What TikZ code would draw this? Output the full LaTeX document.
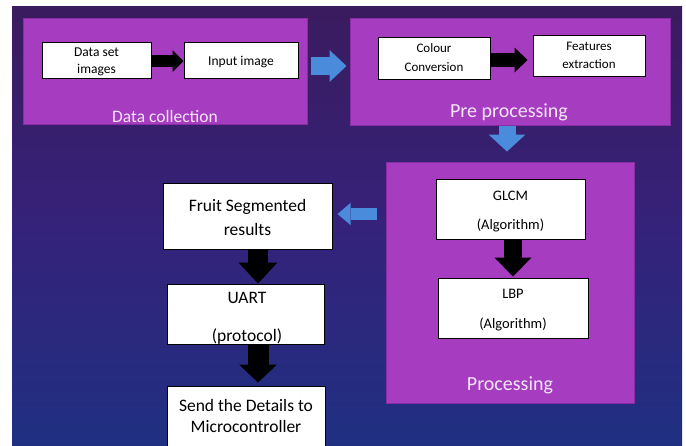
\documentclass[tikz,border=0pt]{standalone}
\usepackage{fontspec}
\setmainfont{Carlito}
\usetikzlibrary{arrows.meta}
\definecolor{bgtop}{HTML}{3A1B5E}
\definecolor{bgmid}{HTML}{35227A}
\definecolor{bgbot}{HTML}{1F3082}
\definecolor{panel}{HTML}{A63CC0}
\definecolor{paneledge}{HTML}{8A2CA6}
\definecolor{bluearr}{HTML}{4A8BDB}
\definecolor{titletext}{HTML}{F3E6F7}
\begin{document}
\begin{tikzpicture}[x=1pt,y=-1pt,
  panelbox/.style={fill=panel, draw=paneledge, line width=1pt, inner sep=0pt},
  whitebox/.style={draw=black, fill=white, line width=1pt, inner sep=0pt},
  lbl/.style={anchor=base, inner sep=0pt, text=black},
  paneltitle/.style={anchor=base, text=titletext, inner sep=0pt},
  blackarrow/.style={draw=black, line width=#1},
  bluearrow/.style={draw=bluearr, line width=#1}
]
\fill[white] (0,0) rectangle (686,445);
\useasboundingbox (0,0) rectangle (686,445);
\shade[top color=bgtop, bottom color=bgbot, middle color=bgmid] (12,6) rectangle (682,446);

% panels
\node[panelbox, minimum width=284pt, minimum height=106pt] (dc) at (165,71) {};
\node[panelbox, minimum width=320pt, minimum height=107pt] (pp) at (510,71.5) {};
\node[panelbox, minimum width=248pt, minimum height=241pt] (proc) at (510,282.5) {};

\node[paneltitle, font=\fontsize{17.5}{20}\selectfont] (dct) at (165,122) {Data collection};
\node[paneltitle, font=\fontsize{20}{22}\selectfont] (ppt) at (509,117) {Pre processing};
\node[paneltitle, font=\fontsize{20}{22}\selectfont] (proct) at (510,390) {Processing};

% white boxes
\node[whitebox, minimum width=109pt, minimum height=36pt] (dsi) at (96.5,60) {};
\node[whitebox, minimum width=114pt, minimum height=36pt] (inp) at (241,60) {};
\node[whitebox, minimum width=112pt, minimum height=42pt] (cc) at (434,58) {};
\node[whitebox, minimum width=112pt, minimum height=41pt] (fe) at (589,55.5) {};
\node[whitebox, minimum width=149pt, minimum height=60pt] (glcm) at (510.5,209) {};
\node[whitebox, minimum width=150pt, minimum height=60pt] (lbp) at (513,308) {};
\node[whitebox, minimum width=169pt, minimum height=66pt] (fsr) at (247.5,216) {};
\node[whitebox, minimum width=157pt, minimum height=60pt] (uart) at (245.5,314) {};
\node[whitebox, minimum width=158pt, minimum height=62pt] (send) at (246,417) {};

% box texts
\begin{scope}[font=\fontsize{13.5}{16}\selectfont]
\node[lbl] (dsi1) at (96.5,56) {Data set};
\node[lbl] (dsi2) at (96.5,73) {images};
\node[lbl] (inp1) at (241,65) {Input image};
\end{scope}
\begin{scope}[font=\fontsize{13}{16}\selectfont]
\node[lbl] (cc1) at (434,52) {Colour};
\node[lbl] (cc2) at (434,71) {Conversion};
\node[lbl] (fe1) at (589,50) {Features};
\node[lbl] (fe2) at (589,68) {extraction};
\end{scope}
\begin{scope}[font=\fontsize{14.5}{16}\selectfont]
\node[lbl] (glcm1) at (510.5,200) {GLCM};
\node[lbl] (glcm2) at (510.5,229) {(Algorithm)};
\node[lbl] (lbp1) at (513,298) {LBP};
\node[lbl] (lbp2) at (513,328) {(Algorithm)};
\end{scope}
\begin{scope}[font=\fontsize{17.5}{20}\selectfont]
\node[lbl] (fsr1) at (247.5,211) {Fruit Segmented};
\node[lbl] (fsr2) at (247.5,235) {results};
\node[lbl] (uart1) at (247,303) {UART};
\node[lbl] (uart2) at (247,341) {(protocol)};
\node[lbl] (send1) at (246,411) {Send the Details to};
\node[lbl] (send2) at (246,432) {Microcontroller};
\end{scope}

% arrows
\draw[blackarrow=12pt, -{Triangle[width=22pt,length=11pt,line width=0pt]}] (dsi.east |- 0,61) -- (inp.west |- 0,61);
\draw[blackarrow=14pt, shorten >=5pt, -{Triangle[width=25pt,length=13pt,line width=0pt]}] (cc.east |- 0,60) -- (fe.west |- 0,60);
\draw[bluearrow=18pt, shorten <=3pt, shorten >=3pt, -{Triangle[width=32pt,length=17pt,line width=0pt]}] (dc.east |- 0,66) -- (pp.west |- 0,66);
\draw[bluearrow=17pt, shorten >=10pt, -{Triangle[width=37pt,length=17pt,line width=0pt]}] (pp.south -| 507,0) -- (proc.north -| 507,0);
\draw[blackarrow=18pt, shorten >=1pt, -{Triangle[width=37pt,length=19pt,line width=0pt]}] (glcm.south -| 513,0) -- (lbp.north -| 513,0);
\draw[bluearrow=12pt, shorten <=9pt, shorten >=5pt, -{Triangle[width=22pt,length=13pt,line width=0pt]}] (proc.west |- 0,214) -- (fsr.east |- 0,214);
\draw[blackarrow=20pt, -{Triangle[width=39pt,length=21pt,line width=0pt]}] (fsr.south -| 258,0) -- (uart.north -| 258,0);
\draw[blackarrow=21pt, shorten >=3pt, -{Triangle[width=38pt,length=18pt,line width=0pt]}] (uart.south -| 258,0) -- (send.north -| 258,0);
\end{tikzpicture}
\end{document}
